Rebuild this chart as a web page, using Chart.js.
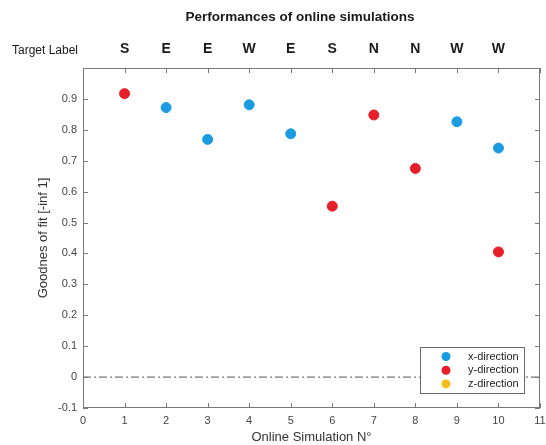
<!DOCTYPE html>
<html>
<head>
<meta charset="utf-8">
<script src="https://cdn.jsdelivr.net/npm/chart.js@4"></script>
<style>
  html, body { margin: 0; padding: 0; background: #fff; }
  #wrap { width: 546px; height: 445px; }
</style>
</head>
<body>
<div id="wrap"><canvas id="perf" width="546" height="445"></canvas></div>
<script>
var simNo = [1, 2, 3, 4, 5, 6, 7, 8, 9, 10];
var targetLabels = ['S', 'E', 'E', 'W', 'E', 'S', 'N', 'N', 'W', 'W'];
var xDirection = [null, 0.872, 0.769, 0.881, 0.787, null, null, null, 0.826, 0.741];
var yDirection = [0.917, null, null, null, null, 0.553, 0.848, 0.675, null, 0.405];
var zDirection = [null, null, null, null, null, null, null, null, null, null];
var legendNames = ['x-direction', 'y-direction', 'z-direction'];
var colors = ['#1b9be0', '#e5202a', '#f2c01e'];

function toPoints(vals) {
  var out = [];
  vals.forEach(function (v, i) {
    if (v !== null) out.push({ x: simNo[i], y: v });
  });
  return out;
}

var FONT = '"Liberation Sans", Arial, sans-serif';

// draws title, target label row, y title, the box with inward ticks and the legend
var matlabLook = {
  id: 'matlabLook',
  afterDraw: function (chart) {
    var ctx = chart.ctx;
    var a = chart.chartArea;
    var xs = chart.scales.x, ys = chart.scales.y;
    ctx.save();

    // title
    ctx.fillStyle = '#1a1a1a';
    ctx.font = 'bold 13.5px ' + FONT;
    ctx.textAlign = 'center';
    ctx.textBaseline = 'middle';
    ctx.fillText('Performances of online simulations', 300, 17);

    // target labels
    ctx.font = '12px ' + FONT;
    ctx.fillText('Target Label', 45, 51);
    ctx.font = 'bold 14px ' + FONT;
    targetLabels.forEach(function (t, i) {
      ctx.fillText(t, xs.getPixelForValue(simNo[i]), 49);
    });

    // y title
    ctx.save();
    ctx.translate(43, (a.top + a.bottom) / 2);
    ctx.rotate(-Math.PI / 2);
    ctx.fillStyle = '#333';
    ctx.font = '13px ' + FONT;
    ctx.fillText('Goodnes of fit [-inf 1]', 0, 0);
    ctx.restore();

    // box
    ctx.strokeStyle = '#7a7a7a';
    ctx.lineWidth = 1;
    ctx.strokeRect(a.left + 0.5, a.top + 0.5, a.right - a.left - 1, a.bottom - a.top - 1);

    // inward ticks
    ctx.beginPath();
    xs.ticks.forEach(function (t) {
      var px = Math.round(xs.getPixelForValue(t.value)) + 0.5;
      ctx.moveTo(px, a.bottom); ctx.lineTo(px, a.bottom - 5);
      ctx.moveTo(px, a.top); ctx.lineTo(px, a.top + 5);
    });
    ys.ticks.forEach(function (t) {
      var py = Math.round(ys.getPixelForValue(t.value)) + 0.5;
      ctx.moveTo(a.left, py); ctx.lineTo(a.left + 5, py);
      ctx.moveTo(a.right, py); ctx.lineTo(a.right - 5, py);
    });
    ctx.stroke();

    // legend
    var lx = 420, ly = 347, lw = 104, lh = 46;
    ctx.fillStyle = '#fff';
    ctx.fillRect(lx, ly, lw, lh);
    ctx.strokeStyle = '#6a6a6a';
    ctx.strokeRect(lx + 0.5, ly + 0.5, lw, lh);
    ctx.font = '11px ' + FONT;
    ctx.textAlign = 'left';
    legendNames.forEach(function (n, i) {
      var cy = ly + 9.5 + i * 13.7;
      ctx.fillStyle = colors[i];
      ctx.beginPath();
      ctx.arc(lx + 26, cy, 4.5, 0, Math.PI * 2);
      ctx.fill();
      ctx.fillStyle = '#222';
      ctx.fillText(n, lx + 48, cy);
    });
    ctx.restore();
  }
};

new Chart('perf', {
  type: 'scatter',
  data: {
    datasets: [
      {
        label: 'zero',
        type: 'line',
        data: [{ x: 0, y: 0 }, { x: 11, y: 0 }],
        borderColor: '#555',
        borderWidth: 1,
        borderDash: [8, 3, 2, 3],
        pointRadius: 0,
        order: 5
      },
      {
        label: legendNames[0],
        data: toPoints(xDirection),
        backgroundColor: colors[0],
        borderColor: colors[0],
        pointRadius: 5,
        order: 1
      },
      {
        label: legendNames[1],
        data: toPoints(yDirection),
        backgroundColor: colors[1],
        borderColor: colors[1],
        pointRadius: 5,
        order: 2
      },
      {
        label: legendNames[2],
        data: toPoints(zDirection),
        backgroundColor: colors[2],
        borderColor: colors[2],
        pointRadius: 5,
        order: 3
      }
    ]
  },
  options: {
    responsive: false,
    animation: false,
    layout: { padding: { top: 68, right: 5, left: 0, bottom: 0 } },
    plugins: {
      legend: { display: false },
      tooltip: { enabled: false }
    },
    scales: {
      x: {
        type: 'linear',
        min: 0,
        max: 11,
        border: { display: false },
        grid: { display: false, drawTicks: false },
        ticks: {
          stepSize: 1,
          padding: 6,
          color: '#444',
          font: { family: FONT, size: 11 }
        },
        title: {
          display: true,
          text: 'Online Simulation N°',
          color: '#333',
          padding: { top: 0, bottom: 0 },
          font: { family: FONT, size: 13 }
        },
        afterFit: function (s) { s.height = 37; s.paddingLeft = 0; s.paddingRight = 0; }
      },
      y: {
        type: 'linear',
        min: -0.1,
        max: 1.0,
        border: { display: false },
        grid: { display: false, drawTicks: false },
        ticks: {
          stepSize: 0.1,
          padding: 6,
          color: '#444',
          font: { family: FONT, size: 11 },
          callback: function (v) {
            var r = Math.round(v * 10) / 10;
            if (r >= 1) return '';
            return String(r);
          }
        },
        afterFit: function (s) { s.width = 83; s.paddingTop = 0; s.paddingBottom = 0; }
      }
    }
  },
  plugins: [matlabLook]
});
</script>
</body>
</html>
